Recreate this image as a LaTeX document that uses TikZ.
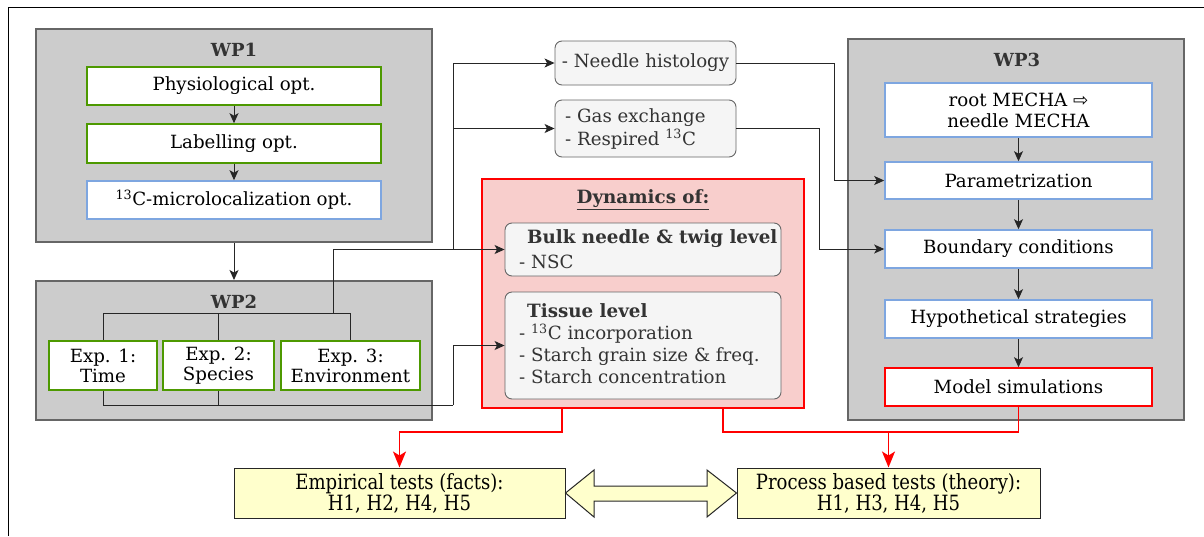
\documentclass[tikz,border=0pt]{standalone}
\usepackage{fontspec}
\setmainfont{DejaVu Serif}
\newfontfamily\symfont{DejaVu Sans}
\newfontfamily\condfont[FakeStretch=0.86]{DejaVu Serif}
\usetikzlibrary{arrows.meta,calc}
\definecolor{wpgray}{HTML}{CCCCCC}
\definecolor{wpedge}{HTML}{666666}
\definecolor{gedge}{HTML}{4D9900}
\definecolor{bedge}{HTML}{7EA6E0}
\definecolor{rfill}{HTML}{F8CECC}
\definecolor{rndfill}{HTML}{F5F5F5}
\definecolor{txtgray}{HTML}{333333}
\definecolor{yfill}{HTML}{FFFFCC}
\tikzset{
  base/.style={inner sep=0pt, align=center, font=\fontsize{18.2}{21}\selectfont},
  wpbox/.style={base, draw=wpedge, fill=wpgray, line width=2pt},
  wptitle/.style={font=\fontsize{18}{21}\selectfont\bfseries, text=txtgray},
  gbox/.style={base, draw=gedge, fill=white, line width=1.6pt},
  bbox/.style={base, draw=bedge, fill=white, line width=1.6pt},
  rbox/.style={base, draw=red, fill=white, line width=1.6pt},
  rndbox/.style={base, draw=wpedge, fill=rndfill, rounded corners=7pt, line width=0.9pt, text=txtgray},
  dynbox/.style={base, draw=red, fill=rfill, line width=2pt},
  ybox/.style={base, draw=black!85, fill=yfill, line width=1pt, font=\condfont\fontsize{21}{21}\selectfont},
  arr/.style={-{Stealth[length=10pt,width=9pt,inset=2.5pt]}, line width=1pt, draw=black!85},
  ln/.style={line width=1pt, draw=black!85},
  rln/.style={line width=1.6pt, draw=red},
  rarr/.style={rln, -{Stealth[length=16pt,width=13pt,inset=4pt]}},
}
\begin{document}
\begin{tikzpicture}[x=1pt,y=-1pt]
\useasboundingbox (0,0) rectangle (1204,536);
\fill[white] (0,0) rectangle (1204,536);
\draw[line width=1.5pt] (8.5,536) -- (8.5,7.5) -- (1204,7.5);

% WP1
\node[wpbox, minimum width=396, minimum height=213] (wp1) at (234,135.5) {};
\node[wptitle] (wp1t) at (234,50) {WP1};
\node[gbox, minimum width=294, minimum height=38] (phys) at (234,86) {Physiological opt.};
\node[gbox, minimum width=294, minimum height=39] (lab) at (234,143.5) {Labelling opt.};
\node[bbox, minimum width=294, minimum height=38] (c13) at (234,200) {\textsuperscript{13}C-microlocalization opt.};
\draw[arr] (phys) -- (lab);
\draw[arr] (lab) -- (c13);

% WP2
\node[wpbox, minimum width=396, minimum height=139] (wp2) at (234,350.5) {};
\node[wptitle] (wp2t) at (234,302) {WP2};
\draw[arr] (wp1) -- (wp2);
\node[gbox, minimum width=108, minimum height=49, font=\fontsize{18.2}{20}\selectfont] (e1) at (103,365.5) {Exp. 1:\\Time};
\node[gbox, minimum width=111, minimum height=49, font=\fontsize{18.2}{20}\selectfont] (e2) at (218.5,365.5) {Exp. 2:\\Species};
\node[gbox, minimum width=139, minimum height=49, font=\fontsize{18.2}{20}\selectfont] (e3) at (350.5,365.5) {Exp. 3:\\Environment};

% middle
\node[rndbox, minimum width=181, minimum height=44] (nh) at (645.5,63) {- Needle histology};
\node[rndbox, minimum width=181, minimum height=57] (ge) at (645.5,128.5) {};
\node[anchor=west, inner sep=0pt, align=left, text=txtgray, font=\fontsize{18.2}{23}\selectfont] (get) at (565,128.5) {- Gas exchange\\- Respired \textsuperscript{13}C};
\node[dynbox, minimum width=322, minimum height=229] (dyn) at (643,293.5) {};
\node[font=\fontsize{18.3}{21}\selectfont\bfseries, text=txtgray] (dynt) at (643,200) {\underline{Dynamics of:}};
\node[rndbox, minimum width=276, minimum height=53] (bulk) at (643,249.5) {};
\node[anchor=west, inner sep=0pt, text=txtgray, font=\fontsize{18.3}{21}\selectfont\bfseries] (bulkt) at (527,239) {Bulk needle \& twig level};
\node[anchor=west, inner sep=0pt, text=txtgray, font=\fontsize{18.2}{21}\selectfont] (bulkn) at (519,262) {- NSC};
\node[rndbox, minimum width=276, minimum height=107] (tis) at (643,345.5) {};
\node[anchor=west, inner sep=0pt, text=txtgray, font=\fontsize{18.3}{21}\selectfont\bfseries] (tist) at (527,311) {Tissue level};
\node[anchor=north west, text=txtgray, align=left, inner sep=0pt, font=\fontsize{18.2}{22}\selectfont] (tisl) at (519,324) {- \textsuperscript{13}C incorporation\\- Starch grain size \& freq.\\- Starch concentration};

% WP3
\node[wpbox, minimum width=336, minimum height=381] (wp3) at (1016,229.5) {};
\node[wptitle] (wp3t) at (1017,60) {WP3};
\node[bbox, minimum width=267, minimum height=54, font=\fontsize{18.2}{21}\selectfont] (root) at (1018.5,110) {root MECHA {\symfont ⇨}\\needle MECHA};
\node[bbox, minimum width=267, minimum height=37] (par) at (1018.5,180.5) {Parametrization};
\node[bbox, minimum width=267, minimum height=38] (bnd) at (1018.5,249) {Boundary conditions};
\node[bbox, minimum width=267, minimum height=38] (hyp) at (1018.5,319) {Hypothetical strategies};
\node[rbox, minimum width=267, minimum height=38] (mod) at (1018.5,387) {Model simulations};
\draw[arr] (root) -- (par);
\draw[arr] (par) -- (bnd);
\draw[arr] (bnd) -- (hyp);
\draw[arr] (hyp) -- (mod);

% bottom
\node[ybox, minimum width=331, minimum height=50] (emp) at (399.5,493) {Empirical tests (facts):\\H1, H2, H4, H5};
\node[ybox, minimum width=303, minimum height=50] (proc) at (888.5,493) {Process based tests (theory):\\H1, H3, H4, H5};
\draw[line width=1pt, draw=black!85, fill=yfill, line join=miter]
  (emp.east) -- (594,470) -- (594,486) -- (707,486) -- (707,470) -- (proc.west)
  -- (707,517) -- (707,501) -- (594,501) -- (594,517) -- cycle;

% connectors WP2
\coordinate (bt) at (0,313);
\coordinate (bb) at (0,405);
\coordinate (j1) at (333,313);
\coordinate (j2) at (453,0);
\draw[ln] (e1.north) |- (bt -| e3.north) -- (e3.north);
\draw[ln] (e2.north) -- (e2.north |- bt);
\draw[arr] (j1) |- (bulk.west);
\draw[arr] (j2 |- bulk.west) |- (nh.west);
\draw[arr] (j2 |- ge.west) -- (ge.west);
\draw[ln] (e1.south) |- (bb -| j2);
\draw[ln] (e2.south) -- (e2.south |- bb);
\draw[arr] (bb -| j2) |- (tis.west);

% to WP3
\draw[arr] (nh.east) -- ++(98,0) |- (par.west);
\draw[arr] (ge.east) -- ++(83,0) |- (bnd.west);

% red connectors
\coordinate (rb) at (0,432);
\draw[rarr] ([xshift=-81pt]dyn.south) |- (rb -| emp.north) -- (emp.north);
\draw[rln] ([xshift=80pt]dyn.south) |- (rb -| mod.south) -- (mod.south);
\draw[rarr] (rb -| proc.north) -- (proc.north);
\end{tikzpicture}
\end{document}
